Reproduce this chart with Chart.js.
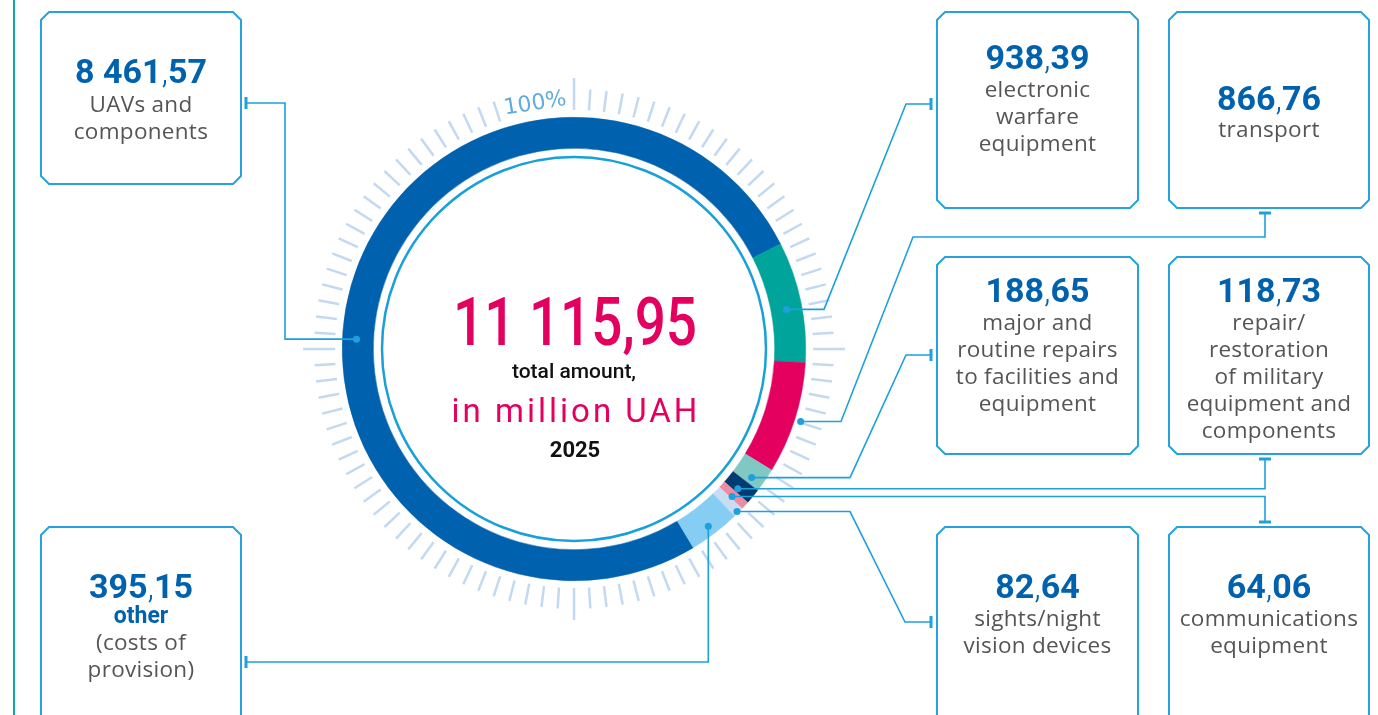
<!DOCTYPE html>
<html lang="en">
<head>
    <meta charset="UTF-8">
    <title>Total amount 2025, in million UAH</title>
    <style>
        html, body { margin: 0; padding: 0; background: #fff; }
        canvas { display: block; }
    </style>
</head>
<body>
    <canvas id="myChart" width="1378" height="715" style="width:1378px;height:715px"></canvas>

    <script src="https://cdn.jsdelivr.net/npm/chart.js"></script>
    <script>
        // data, in million UAH (clockwise order of the ring)
        var categories = [
            'UAVs and components',
            'electronic warfare equipment',
            'transport',
            'major and routine repairs to facilities and equipment',
            'repair/restoration of military equipment and components',
            'communications equipment',
            'sights/night vision devices',
            'other (costs of provision)'
        ];
        var values = [8461.57, 938.39, 866.76, 188.65, 118.73, 64.06, 82.64, 395.15];
        var boxLabels = [
            ['UAVs and', 'components'],
            ['electronic', 'warfare', 'equipment'],
            ['transport'],
            ['major and', 'routine repairs', 'to facilities and', 'equipment'],
            ['repair/', 'restoration', 'of military', 'equipment and', 'components'],
            ['communications', 'equipment'],
            ['sights/night', 'vision devices'],
            ['other', '(costs of', 'provision)']
        ];
        var centerLines = ['total amount,', 'in million UAH', '2025'];
        var scaleLabel = '100%';

        var colors = ['#0062ae', '#00a49b', '#e4005f', '#80c9c3', '#003b72', '#f08ca1', '#c6ddf3', '#86cdf3'];
        var lineBlue = '#1ea0dc';

        // where each box sits and where its text goes
        var boxes = [
            { x: 41, y: 12, w: 200, h: 172, num: 83, first: 112 },
            { x: 937, y: 12, w: 201, h: 196, num: 69, first: 97 },
            { x: 1169, y: 12, w: 200, h: 196, num: 110, first: 137 },
            { x: 937, y: 257, w: 201, h: 197, num: 302, first: 330 },
            { x: 1169, y: 257, w: 200, h: 197, num: 302, first: 330 },
            { x: 1169, y: 527, w: 200, h: 220, num: 598, first: 626 },
            { x: 937, y: 527, w: 201, h: 220, num: 598, first: 626 },
            { x: 41, y: 527, w: 200, h: 220, num: 598, first: 623 }
        ];

        // dot position inside each slice: [angle fraction, radial fraction]
        var dots = [[0.451, 0.55], [0.54, 0.5], [0.51, 1.2], [0.72, 0.6], [0.74, 0.47], [0.76, 0.5], [0.52, 0.95], [0.52, 0.7]];

        // leader lines from the dot to the box, last point gets a marker
        var leaders = [
            function (d) { return { p: [[d.x, d.y], [285, d.y], [285, 103], [246, 103]], m: 'v' }; },
            function (d) { return { p: [[d.x, d.y], [824, d.y], [906, 104], [931, 104]], m: 'v' }; },
            function (d) { return { p: [[d.x, d.y], [841, d.y], [913, 237], [1265, 237], [1265, 213]], m: 'h' }; },
            function (d) { return { p: [[d.x, d.y], [850, d.y], [906, 355], [931, 355]], m: 'v' }; },
            function (d) { return { p: [[d.x, d.y], [1265, d.y], [1265, 459]], m: 'h' }; },
            function (d) { return { p: [[d.x, d.y], [1265, d.y], [1265, 522]], m: 'h' }; },
            function (d) { return { p: [[d.x, d.y], [850, d.y], [905, 622], [931, 622]], m: 'v' }; },
            function (d) { return { p: [[d.x, d.y], [d.x, 662], [246, 662]], m: 'v' }; }
        ];

        function fmt(n) {
            var parts = n.toFixed(2).split('.');
            return [parts[0].replace(/\B(?=(\d{3})+(?!\d))/g, ' '), parts[1]];
        }

        function chamferBox(ctx, b) {
            var c = 8;
            ctx.beginPath();
            ctx.moveTo(b.x + c, b.y);
            ctx.lineTo(b.x + b.w - c, b.y);
            ctx.lineTo(b.x + b.w, b.y + c);
            ctx.lineTo(b.x + b.w, b.y + b.h - c);
            ctx.lineTo(b.x + b.w - c, b.y + b.h);
            ctx.lineTo(b.x + c, b.y + b.h);
            ctx.lineTo(b.x, b.y + b.h - c);
            ctx.lineTo(b.x, b.y + c);
            ctx.closePath();
            ctx.stroke();
        }

        function drawNumber(ctx, n, cx, y, size, color) {
            var p = fmt(n);
            var bold = '700 ' + size + 'px Roboto';
            var thin = '300 ' + size + 'px Roboto';
            ctx.font = bold;
            var w1 = ctx.measureText(p[0]).width;
            var w3 = ctx.measureText(p[1]).width;
            ctx.font = thin;
            var w2 = ctx.measureText(',').width;
            var x = cx - (w1 + w2 + w3) / 2;
            ctx.fillStyle = color;
            ctx.textAlign = 'left';
            ctx.font = bold;
            ctx.fillText(p[0], x, y);
            ctx.font = thin;
            ctx.fillText(',', x + w1, y);
            ctx.font = bold;
            ctx.fillText(p[1], x + w1 + w2, y);
        }

        var decorPlugin = {
            id: 'decor',
            beforeDraw: function (chart) {
                var ctx = chart.ctx;
                ctx.save();
                ctx.fillStyle = '#fff';
                ctx.fillRect(0, 0, chart.width, chart.height);
                // left rule
                ctx.strokeStyle = '#13a6a8';
                ctx.lineWidth = 2;
                ctx.beginPath();
                ctx.moveTo(14, 0);
                ctx.lineTo(14, chart.height);
                ctx.stroke();

                // percent ticks round the ring
                var arc = chart.getDatasetMeta(0).data[0];
                var cx = arc.x, cy = arc.y;
                ctx.strokeStyle = '#c3d9f1';
                ctx.lineWidth = 2.5;
                for (var i = 0; i < 100; i++) {
                    if (i >= 96) continue;
                    var a = (i / 100) * Math.PI * 2 - Math.PI / 2;
                    var r1 = 239, r2 = (i % 25 === 0) ? 271 : 260;
                    ctx.beginPath();
                    ctx.moveTo(cx + Math.cos(a) * r1, cy + Math.sin(a) * r1);
                    ctx.lineTo(cx + Math.cos(a) * r2, cy + Math.sin(a) * r2);
                    ctx.stroke();
                }
                var ta = -9 * Math.PI / 180;
                ctx.translate(cx + Math.sin(ta) * 248, cy - Math.cos(ta) * 248);
                ctx.rotate(ta);
                ctx.fillStyle = '#62abe0';
                ctx.font = '22px "DejaVu Sans"';
                ctx.textAlign = 'center';
                ctx.textBaseline = 'middle';
                ctx.fillText(scaleLabel, 0, 0);
                ctx.restore();
            },
            afterDraw: function (chart) {
                var ctx = chart.ctx;
                var meta = chart.getDatasetMeta(0);
                var cx = meta.data[0].x, cy = meta.data[0].y;
                ctx.save();

                // thin inner circle
                ctx.strokeStyle = '#17a0da';
                ctx.lineWidth = 2.5;
                ctx.beginPath();
                ctx.arc(cx, cy, 192, 0, Math.PI * 2);
                ctx.stroke();

                // centre text
                ctx.textAlign = 'center';
                ctx.textBaseline = 'alphabetic';
                var t = fmt(values.reduce(function (s, v) { return s + v; }, 0));
                ctx.fillStyle = '#e4005f';
                ctx.font = '500 66px Roboto';
                ctx.fillText(t[0] + ',' + t[1], cx + 1, 345, 244);
                ctx.fillStyle = '#111';
                ctx.font = '500 21px Roboto';
                ctx.fillText(centerLines[0], cx, 378, 150);
                ctx.fillStyle = '#e4005f';
                ctx.font = '400 33px Roboto';
                ctx.letterSpacing = '3px';
                ctx.fillText(centerLines[1], cx + 2, 422, 265);
                ctx.letterSpacing = '0px';
                ctx.fillStyle = '#111';
                ctx.font = '700 22px Roboto';
                ctx.fillText(centerLines[2], cx + 1, 457);

                // boxes and their text
                ctx.strokeStyle = '#27a2dd';
                ctx.lineWidth = 2;
                boxes.forEach(function (b, i) {
                    chamferBox(ctx, b);
                    var mid = b.x + b.w / 2;
                    drawNumber(ctx, values[i], mid, b.num, 34, '#0062ae');
                    ctx.textAlign = 'center';
                    boxLabels[i].forEach(function (line, k) {
                        if (i === 7 && k === 0) {
                            ctx.fillStyle = '#0062ae';
                            ctx.font = '700 23px Roboto';
                            ctx.letterSpacing = '0px';
                        } else {
                            ctx.fillStyle = '#555';
                            ctx.font = '400 22.5px "Open Sans"';
                            ctx.letterSpacing = '0.3px';
                        }
                        ctx.fillText(line, mid, b.first + k * 27, b.w - 14);
                    });
                    ctx.letterSpacing = '0px';
                });

                // leader lines and dots
                ctx.strokeStyle = lineBlue;
                ctx.fillStyle = lineBlue;
                meta.data.forEach(function (arc, i) {
                    var a = arc.startAngle + dots[i][0] * (arc.endAngle - arc.startAngle);
                    var r = arc.innerRadius + dots[i][1] * (arc.outerRadius - arc.innerRadius);
                    var d = { x: arc.x + Math.cos(a) * r, y: arc.y + Math.sin(a) * r };
                    var L = leaders[i](d);
                    ctx.lineWidth = 1.6;
                    ctx.beginPath();
                    L.p.forEach(function (pt, k) {
                        if (k === 0) ctx.moveTo(pt[0], pt[1]); else ctx.lineTo(pt[0], pt[1]);
                    });
                    ctx.stroke();
                    var e = L.p[L.p.length - 1];
                    ctx.lineWidth = 3;
                    ctx.beginPath();
                    if (L.m === 'v') { ctx.moveTo(e[0], e[1] - 6); ctx.lineTo(e[0], e[1] + 6); }
                    else { ctx.moveTo(e[0] - 6, e[1]); ctx.lineTo(e[0] + 6, e[1]); }
                    ctx.stroke();
                    ctx.beginPath();
                    ctx.arc(d.x, d.y, 3.5, 0, Math.PI * 2);
                    ctx.fill();
                });
                ctx.restore();
            }
        };

        var ctx = document.getElementById('myChart').getContext('2d');
        new Chart(ctx, {
            type: 'doughnut',
            data: {
                labels: categories,
                datasets: [{
                    data: values,
                    backgroundColor: colors,
                    borderColor: colors,
                    borderWidth: 0.5
                }]
            },
            options: {
                responsive: false,
                animation: false,
                rotation: 149,
                cutout: '86.6%',
                layout: { padding: { left: 342, right: 572, top: 117, bottom: 134 } },
                plugins: {
                    legend: { display: false },
                    tooltip: { enabled: false }
                }
            },
            plugins: [decorPlugin]
        });
    </script>
</body>
</html>
